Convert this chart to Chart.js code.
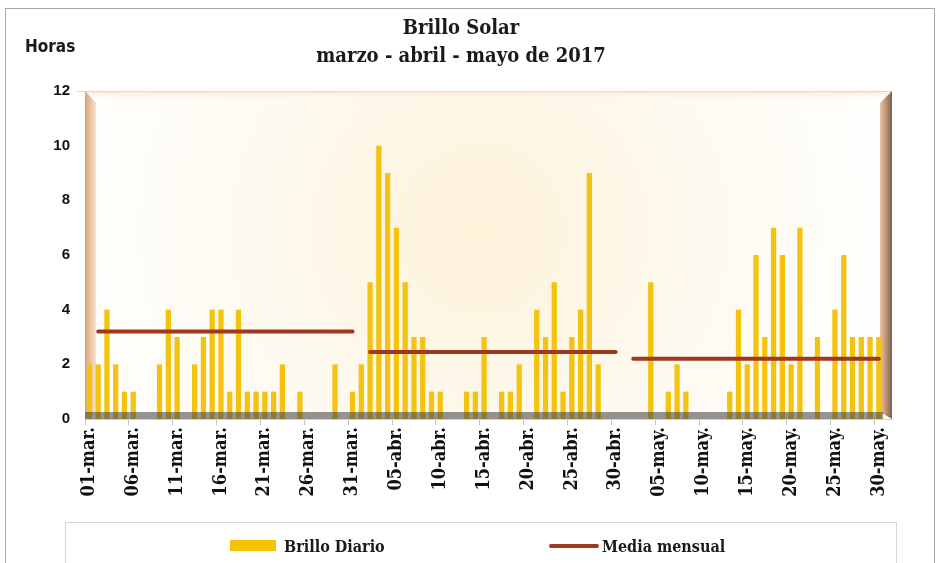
<!DOCTYPE html>
<html>
<head>
<meta charset="utf-8">
<script src="https://cdn.jsdelivr.net/npm/chart.js@4/dist/chart.umd.min.js"></script>
<style>
  html, body { margin: 0; padding: 0; background: #fff; }
  #wrap { position: relative; width: 938px; height: 563px; overflow: hidden; }
  #frame { position: absolute; left: 5px; top: 8px; width: 928px; height: 620px; border: 1px solid #a8a8a8; }
  canvas { position: absolute; left: 0; top: 0; }
  .ttl { position: absolute; left: 0; width: 922px; text-align: center; line-height: 24px;
         font: bold 20px 'DejaVu Serif Condensed', 'Liberation Serif', serif; color: #1a1a1a; }
  #horas { position: absolute; left: 25px; top: 36px; line-height: 18px;
           font: bold 17px 'DejaVu Sans Condensed', 'Liberation Sans', sans-serif; color: #1a1a1a; }
  #legend { position: absolute; left: 65px; top: 522px; width: 830px; height: 80px; border: 1px solid #d6d6d6; }
  .lg { position: absolute; line-height: 18px; font: bold 16px 'DejaVu Serif Condensed', 'Liberation Serif', serif; color: #1a1a1a; }
</style>
</head>
<body>
<div id="wrap">
  <div id="frame"></div>
  <canvas id="chart" width="938" height="563"></canvas>
  <div class="ttl" style="top:15px">Brillo Solar</div>
  <div class="ttl" style="top:43px">marzo - abril - mayo de 2017</div>
  <div id="horas">Horas</div>
  <div id="legend"></div>
  <div style="position:absolute;left:230px;top:540px;width:46px;height:11px;background:#f5c400"></div>
  <div class="lg" style="left:284px;top:537px">Brillo Diario</div>
  <div style="position:absolute;left:549px;top:544px;width:50px;height:4px;background:#a0381e;border-radius:2px"></div>
  <div class="lg" style="left:602px;top:537px">Media mensual</div>
</div>
<script>
// ---------------------------------------------------------------------------
// Data (horas de brillo solar por día, 01-mar a 31-may 2017)
// ---------------------------------------------------------------------------
const MONTHS = [["mar", 31], ["abr", 30], ["may", 31]];

const brilloMarzo = [2, 2, 4, 2, 1, 1, 0, 0, 2, 4, 3, 0, 2, 3, 4, 4, 1, 4, 1, 1, 1, 1, 2, 0, 1, 0, 0, 0, 2, 0, 1];
const brilloAbril = [2, 5, 10, 9, 7, 5, 3, 3, 1, 1, 0, 0, 1, 1, 3, 0, 1, 1, 2, 0, 4, 3, 5, 1, 3, 4, 9, 2, 0, 0];
const brilloMayo  = [0, 0, 0, 5, 0, 1, 2, 1, 0, 0, 0, 0, 1, 4, 2, 6, 3, 7, 6, 2, 7, 0, 3, 0, 4, 6, 3, 3, 3, 3, 0];

// media mensual de cada mes
const mediaMensual = [3.2, 2.45, 2.2];

const Y_TICKS = [0, 2, 4, 6, 8, 10, 12];

// ---------------------------------------------------------------------------
// Build categories and series
// ---------------------------------------------------------------------------
const dayLabels = [];
for (const [mes, n] of MONTHS) {
  for (let d = 1; d <= n; d++) dayLabels.push(String(d).padStart(2, "0") + "-" + mes + ".");
}
const brilloDiario = [...brilloMarzo, ...brilloAbril, ...brilloMayo];

// la línea de la media arranca el día 2 de cada mes
const mediaLinea = [];
MONTHS.forEach(([mes, n], m) => {
  for (let d = 1; d <= n; d++) mediaLinea.push(d === 1 || (m === 2 && d === n) ? null : mediaMensual[m]);
});

// ---------------------------------------------------------------------------
// 3D-like wall and floor
// ---------------------------------------------------------------------------
const wallPlugin = {
  id: "wall",
  beforeDatasetsDraw(chart) {
    const { ctx, chartArea: { left, top, right, bottom } } = chart;
    ctx.save();
    const g = ctx.createRadialGradient(480, 230, 10, 480, 230, 430);
    g.addColorStop(0, "#fdf2da");
    g.addColorStop(0.5, "#fef9ef");
    g.addColorStop(1, "#ffffff");
    ctx.fillStyle = g;
    ctx.fillRect(left, top, right - left, bottom - top);

    // top edge
    const gt = ctx.createLinearGradient(0, top, 0, top + 12);
    gt.addColorStop(0, "rgba(250,228,204,0.8)");
    gt.addColorStop(1, "rgba(255,255,255,0)");
    ctx.fillStyle = gt;
    ctx.fillRect(left, top, right - left, 12);
    ctx.strokeStyle = "#d9d9d9";
    ctx.lineWidth = 1;
    ctx.beginPath(); ctx.moveTo(left - 8, top + 0.5); ctx.lineTo(right, top + 0.5); ctx.stroke();

    // left bevel
    const gl = ctx.createLinearGradient(left, 0, left + 11, 0);
    gl.addColorStop(0, "#d6a47a");
    gl.addColorStop(1, "#fae3cc");
    ctx.fillStyle = gl;
    ctx.beginPath();
    ctx.moveTo(left, top); ctx.lineTo(left + 11, top + 12); ctx.lineTo(left + 11, bottom - 7);
    ctx.lineTo(left, bottom); ctx.closePath(); ctx.fill();

    // right bevel
    const gr = ctx.createLinearGradient(right - 14, 0, right, 0);
    gr.addColorStop(0, "#f8d6b4");
    gr.addColorStop(0.5, "#c79b78");
    gr.addColorStop(1, "#7b6452");
    ctx.fillStyle = gr;
    ctx.beginPath();
    ctx.moveTo(right, top); ctx.lineTo(right - 12, top + 12); ctx.lineTo(right - 12, bottom - 7);
    ctx.lineTo(right, bottom); ctx.closePath(); ctx.fill();
    ctx.restore();
  },
  afterDatasetsDraw(chart) {
    const { ctx, chartArea: { left, right, bottom } } = chart;
    ctx.save();
    ctx.fillStyle = "rgba(70,70,70,0.58)";
    ctx.fillRect(left, bottom - 7, right - left - 9, 7);
    ctx.restore();
  }
};

// ---------------------------------------------------------------------------
// Chart
// ---------------------------------------------------------------------------
const serif = "'DejaVu Serif Condensed', 'Liberation Serif', serif";

new Chart(document.getElementById("chart"), {
  type: "bar",
  data: {
    labels: dayLabels,
    datasets: [
      {
        type: "line",
        label: "Media mensual",
        data: mediaLinea,
        borderColor: "#a0381e",
        borderWidth: 4,
        borderCapStyle: "round",
        pointRadius: 0,
        spanGaps: false,
        order: 0,
      },
      {
        label: "Brillo Diario",
        data: brilloDiario,
        backgroundColor: "#f3c30f",
        barPercentage: 0.6,
        categoryPercentage: 1,
        order: 1,
      }
    ]
  },
  options: {
    responsive: false,
    animation: false,
    layout: { padding: { left: 0, top: 91, right: 46, bottom: 0 } },
    plugins: { legend: { display: false }, tooltip: { enabled: false } },
    scales: {
      x: {
        offset: true,
        border: { display: true, color: "#d0d0d0" },
        grid: {
          offset: true,
          drawOnChartArea: false,
          drawTicks: true,
          tickLength: 6,
          color: ctx => (ctx.index % 5 === 0 ? "#c4c4c4" : "rgba(0,0,0,0)"),
        },
        ticks: {
          autoSkip: false,
          minRotation: 90,
          maxRotation: 90,
          padding: 2,
          color: "#111",
          font: { family: serif, size: 18, weight: "bold" },
          callback: (v, i) => (i % 5 === 0 ? dayLabels[i] : ""),
        },
        afterFit: s => { s.height = 144; },
      },
      y: {
        min: 0,
        max: 12,
        border: { display: false },
        grid: { display: false, drawTicks: false },
        afterBuildTicks: s => { s.ticks = Y_TICKS.map(v => ({ value: v })); },
        ticks: {
          padding: 15,
          color: "#111",
          font: { family: "'Liberation Sans', Arial, sans-serif", size: 15, weight: "bold" },
        },
        afterFit: s => { s.width = 85; },
      }
    }
  },
  plugins: [wallPlugin]
});
</script>
</body>
</html>
